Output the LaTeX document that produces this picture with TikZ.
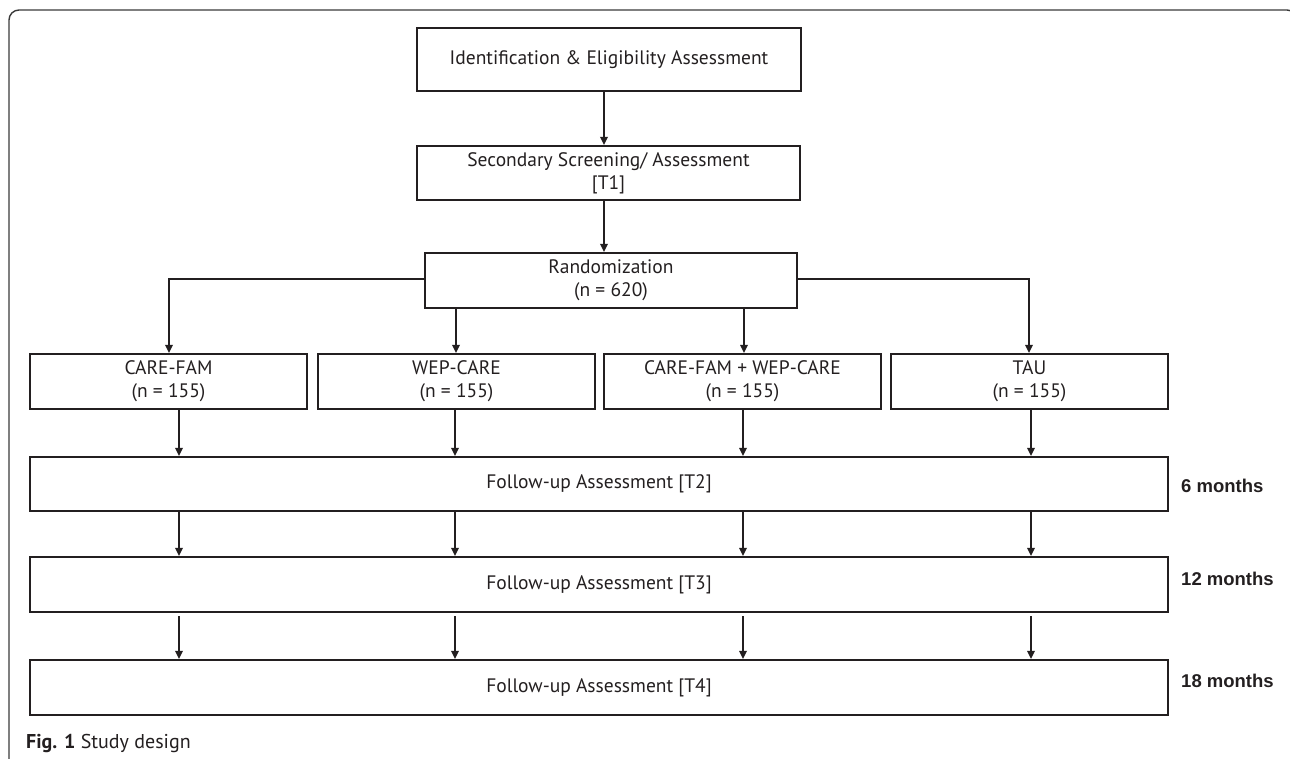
\documentclass[tikz,border=0pt]{standalone}
\usepackage{fontspec}
\setmainfont{PT Sans}
\newfontfamily\labfont{Liberation Sans}
\usetikzlibrary{arrows.meta}
\definecolor{ink}{HTML}{231F20}
\definecolor{framec}{HTML}{3A3A3A}
\begin{document}
\begin{tikzpicture}[x=1pt,y=-1pt,
  box/.style={draw=ink, line width=2.2pt, rectangle, inner sep=0pt, align=center,
    font=\fontsize{19.5}{23}\selectfont, text=ink},
  arr/.style={draw=ink, line width=1.7pt, -{Triangle[length=8pt,width=7.5pt]}},
  monthlab/.style={anchor=base west, inner sep=0pt, font=\labfont\bfseries\fontsize{18.5}{22}\selectfont, text=ink},
  captionlab/.style={anchor=base west, inner sep=0pt, font=\fontsize{20}{22}\selectfont, text=ink}]
\useasboundingbox (0,0) rectangle (1290,759);
% outer frame
\draw[framec, line width=1.4pt, rounded corners=10pt] (9,790) -- (9,10) -- (1297,10) -- (1297,790);
% column coordinates
\coordinate (c0) at (604,0);
\coordinate (c1) at (179,0);
\coordinate (c2) at (455,0);
\coordinate (c3) at (743,0);
\coordinate (c4) at (1031,0);
\coordinate (b1) at (169,279);
\coordinate (b2) at (456,0);
\coordinate (b3) at (744,0);
\coordinate (b4) at (1029,279);
% boxes
\node[box, minimum width=384pt, minimum height=63pt] (ident) at (609,59.5) {Identification \& Eligibility Assessment};
\node[box, minimum width=383pt, minimum height=54pt] (screen) at (608.5,173) {Secondary Screening/ Assessment\\{}[T1]};
\node[box, minimum width=372pt, minimum height=55pt] (rand) at (611,280.5) {Randomization\\(n = 620)};
\node[box, minimum width=277pt, minimum height=55pt] (cf) at (168.5,381.5) {CARE-FAM\\(n = 155)};
\node[box, minimum width=277pt, minimum height=55pt] (wc) at (456.5,381.5) {WEP-CARE\\(n = 155)};
\node[box, minimum width=277pt, minimum height=55pt] (cw) at (742.5,381.5) {CARE-FAM + WEP-CARE\\(n = 155)};
\node[box, minimum width=277pt, minimum height=55pt] (tau) at (1029.5,381.5) {TAU\\(n = 155)};
\node[box, minimum width=1138pt, minimum height=54pt] (t2) at (599,484) {Follow-up Assessment [T2]};
\node[box, minimum width=1138pt, minimum height=55pt] (t3) at (599,584.5) {Follow-up Assessment [T3]};
\node[box, minimum width=1138pt, minimum height=55pt] (t4) at (599,687.5) {Follow-up Assessment [T4]};
% month labels
\node[monthlab] (m6) at (1181,492) {6 months};
\node[monthlab] (m12) at (1181,585) {12 months};
\node[monthlab] (m18) at (1181,687) {18 months};
% caption
\node[captionlab] (cap) at (26,748) {\textbf{Fig. 1} Study design};
% connectors
\draw[arr] (ident.south -| c0) -- (screen.north -| c0);
\draw[arr] (screen.south -| c0) -- (rand.north -| c0);
\draw[arr] (rand.west |- b1) -| (cf.north -| b1);
\draw[arr] (rand.east |- b4) -| (tau.north -| b4);
\draw[arr] (rand.south -| b2) -- (wc.north -| b2);
\draw[arr] (rand.south -| b3) -- (cw.north -| b3);
\draw[arr] (cf.south -| c1) -- (t2.north -| c1);
\draw[arr] (wc.south -| c2) -- (t2.north -| c2);
\draw[arr] (cw.south -| c3) -- (t2.north -| c3);
\draw[arr] (tau.south -| c4) -- (t2.north -| c4);
\foreach \c in {c1,c2,c3,c4} {
  \draw[arr] (t2.south -| \c) -- (t3.north -| \c);
  \draw[arr, shorten <=3pt] (t3.south -| \c) -- (t4.north -| \c);
}
\end{tikzpicture}
\end{document}
